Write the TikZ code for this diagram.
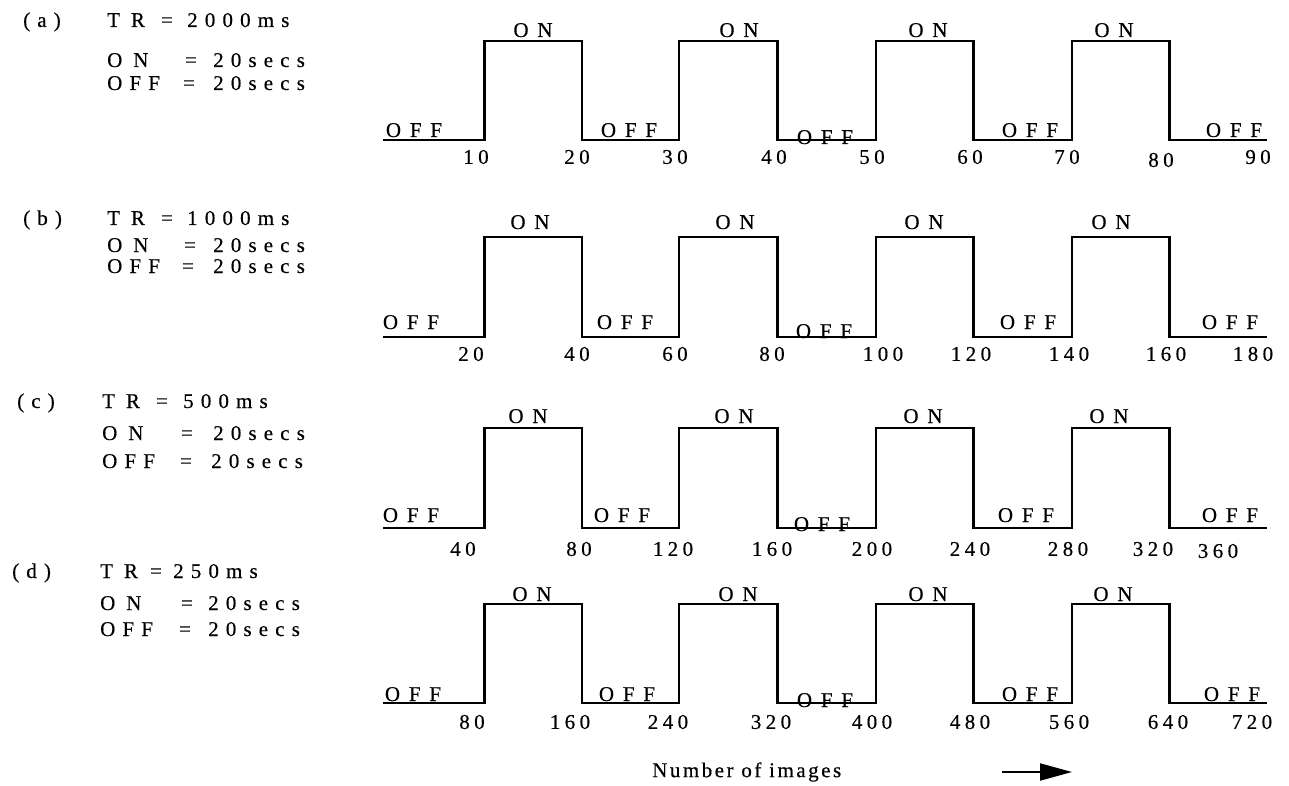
\documentclass[tikz,border=0pt]{standalone}
\usepackage{fontspec}
\setmainfont{Liberation Serif}
\newfontfamily\lsL[LetterSpace=34,FakeBold=0.4]{Liberation Serif}
\newfontfamily\lsC[LetterSpace=42,FakeBold=0.4]{Liberation Serif}
\newfontfamily\lsW[LetterSpace=52,FakeBold=0.4]{Liberation Serif}
\newfontfamily\lsN[LetterSpace=21,FakeBold=0.4]{Liberation Serif}
\newfontfamily\lsX[LetterSpace=12,FakeBold=0.4]{Liberation Serif}
\usetikzlibrary{arrows.meta}
\tikzset{
  wave/.style={line width=2.1pt, line join=miter},
  txt/.style={inner sep=0pt, font=\lsL\fontsize{21}{24}\selectfont},
  wide/.style={inner sep=0pt, font=\lsW\fontsize{21}{24}\selectfont},
  num/.style={inner sep=0pt, font=\lsN\fontsize{21}{24}\selectfont},
  lvl/.style={inner sep=0pt, anchor=base, font=\lsC\fontsize{21}{24}\selectfont},
  axis/.style={inner sep=0pt, font=\lsX\fontsize{21}{24}\selectfont},
}
\newcommand\mywave[2]{\draw[wave] (383,#2) -| (484.5,#1) -| (582,#2) -| (679,#1) -| (777.5,#2) -| (876,#1) -| (973.5,#2) -| (1072,#1) -| (1169.5,#2) -- (1267,#2);}
\begin{document}
\begin{tikzpicture}[x=1pt,y=-1pt]
\useasboundingbox (0,0) rectangle (1289,786);
\fill[white] (0,0) rectangle (1289,786);

% ---------- parameter texts ----------
% (a)
\node[txt,anchor=base west] (pa) at (23,27) {(a)};
\node[wide,anchor=base west] (pa-tr) at (107,27) {TR};
\node[txt,anchor=base] (pa-tre) at (167,27) {=};
\node[txt,anchor=base west] (pa-trv) at (187,27) {2000ms};
\node[wide,anchor=base west] (pa-on) at (107,67) {ON};
\node[txt,anchor=base] (pa-one) at (191,67) {=};
\node[txt,anchor=base west] (pa-onv) at (213,67) {20secs};
\node[txt,anchor=base west] (pa-off) at (107,90) {OFF};
\node[txt,anchor=base] (pa-offe) at (189,90) {=};
\node[txt,anchor=base west] (pa-offv) at (213,90) {20secs};
% (b)
\node[txt,anchor=base west] (pb) at (23,225) {(b)};
\node[wide,anchor=base west] (pb-tr) at (107,225) {TR};
\node[txt,anchor=base] (pb-tre) at (167,225) {=};
\node[txt,anchor=base west] (pb-trv) at (187,225) {1000ms};
\node[wide,anchor=base west] (pb-on) at (107,252) {ON};
\node[txt,anchor=base] (pb-one) at (190,252) {=};
\node[txt,anchor=base west] (pb-onv) at (213,252) {20secs};
\node[txt,anchor=base west] (pb-off) at (107,273) {OFF};
\node[txt,anchor=base] (pb-offe) at (188,273) {=};
\node[txt,anchor=base west] (pb-offv) at (213,273) {20secs};
% (c)
\node[txt,anchor=base west] (pc) at (17,408) {(c)};
\node[wide,anchor=base west] (pc-tr) at (102,408) {TR};
\node[txt,anchor=base] (pc-tre) at (162,408) {=};
\node[txt,anchor=base west] (pc-trv) at (183,408) {500ms};
\node[wide,anchor=base west] (pc-on) at (102,440) {ON};
\node[txt,anchor=base] (pc-one) at (187,440) {=};
\node[txt,anchor=base west] (pc-onv) at (213,440) {20secs};
\node[txt,anchor=base west] (pc-off) at (102,468) {OFF};
\node[txt,anchor=base] (pc-offe) at (186,468) {=};
\node[txt,anchor=base west] (pc-offv) at (211,468) {20secs};
% (d)
\node[txt,anchor=base west] (pd) at (12,578) {(d)};
\node[wide,anchor=base west] (pd-tr) at (100,578) {TR};
\node[txt,anchor=base] (pd-tre) at (156,578) {=};
\node[txt,anchor=base west] (pd-trv) at (173,578) {250ms};
\node[wide,anchor=base west] (pd-on) at (100,610) {ON};
\node[txt,anchor=base] (pd-one) at (187,610) {=};
\node[txt,anchor=base west] (pd-onv) at (208,610) {20secs};
\node[txt,anchor=base west] (pd-off) at (100,636) {OFF};
\node[txt,anchor=base] (pd-offe) at (185,636) {=};
\node[txt,anchor=base west] (pd-offv) at (208,636) {20secs};

% ---------- waveforms ----------
\mywave{41}{140}
\mywave{237}{337}
\mywave{428}{528}
\mywave{604}{703}

% ---------- ON labels ----------
\foreach \x [count=\i] in {533,739,928,1114} \node[lvl] (a-on-\i) at (\x,37) {ON};
\foreach \x [count=\i] in {530,735,924,1111} \node[lvl] (b-on-\i) at (\x,229) {ON};
\foreach \x [count=\i] in {528,734,923,1109} \node[lvl] (c-on-\i) at (\x,423) {ON};
\foreach \x [count=\i] in {532,738,928,1113} \node[lvl] (d-on-\i) at (\x,601) {ON};

% ---------- OFF labels ----------
\foreach \x [count=\i] in {414,629,1030,1234} \node[lvl] (a-off-\i) at (\x,137) {OFF};
\node[lvl] (a-off-m) at (825,144) {OFF};
\foreach \x [count=\i] in {411,625,1028,1230} \node[lvl] (b-off-\i) at (\x,329) {OFF};
\node[lvl] (b-off-m) at (824,338) {OFF};
\foreach \x [count=\i] in {411,622,1026,1230} \node[lvl] (c-off-\i) at (\x,522) {OFF};
\node[lvl] (c-off-m) at (822,531) {OFF};
\foreach \x [count=\i] in {413,627,1030,1232} \node[lvl] (d-off-\i) at (\x,701) {OFF};
\node[lvl] (d-off-m) at (825,707) {OFF};

% ---------- image numbers ----------
\foreach \x/\t [count=\i] in {476/10,577/20,675/30,774/40,872/50,970/60,1067/70,1258/90}
  \node[num] (a-n-\i) at (\x,157) {\t};
\node[num] (a-n-80) at (1161,160) {80};
\foreach \x/\t [count=\i] in {471/20,577/40,675/60,772/80,883/100,971/120,1069/140,1166/160,1253/180}
  \node[num] (b-n-\i) at (\x,354) {\t};
\foreach \x/\t [count=\i] in {463/40,579/80,673/120,772/160,872/200,970/240,1068/280,1153/320}
  \node[num] (c-n-\i) at (\x,549) {\t};
\node[num] (c-n-360) at (1218,551) {360};
\foreach \x/\t [count=\i] in {472/80,570/160,668/240,771/320,872/400,970/480,1069/560,1168/640,1252/720}
  \node[num] (d-n-\i) at (\x,722) {\t};

% ---------- axis caption ----------
\node[axis,anchor=west] (axlbl) at (652,772) {Number of images};
\coordinate (ar0) at (1002,772);
\coordinate (ar1) at (1072,772);
\draw[line width=2pt,-{Triangle[length=32pt,width=17pt]}] (ar0) -- (ar1);
\end{tikzpicture}
\end{document}
